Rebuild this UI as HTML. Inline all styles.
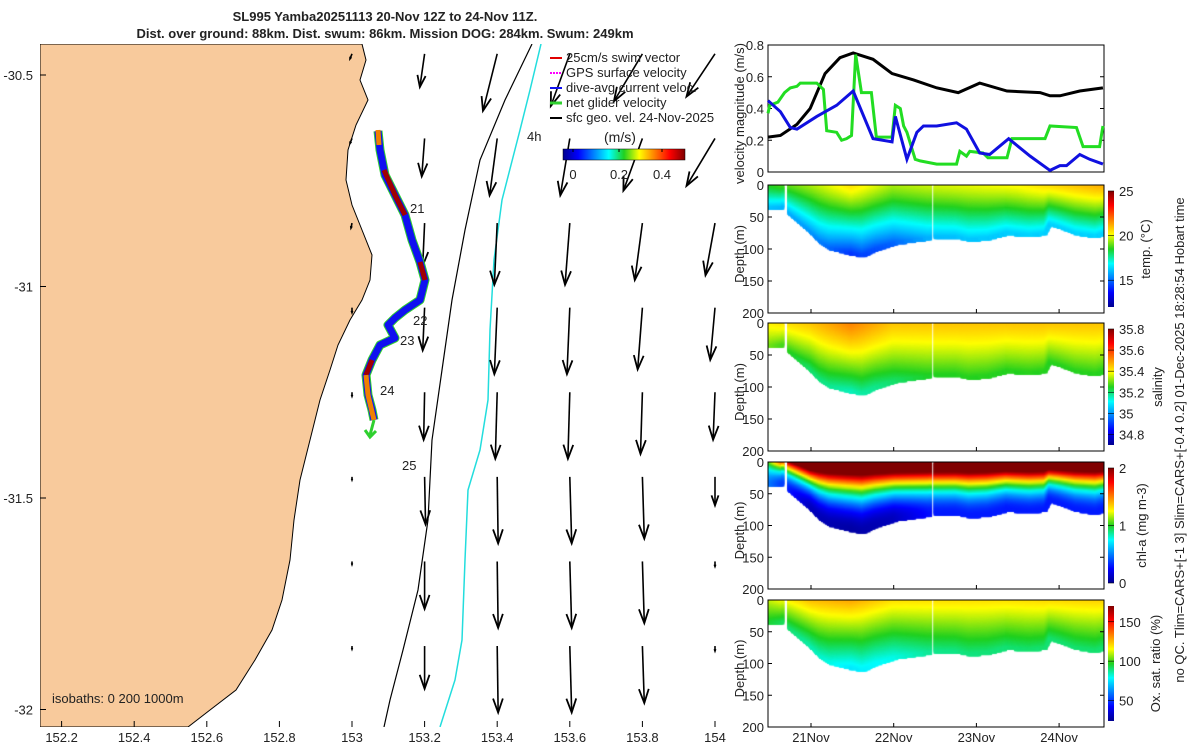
<!DOCTYPE html>
<html><head><meta charset="utf-8">
<style>
html,body{margin:0;padding:0;background:#fff;overflow:hidden;}
#wrap{position:relative;width:1200px;height:750px;overflow:hidden;font-family:"Liberation Sans",sans-serif;}
canvas{position:absolute;}
svg{position:absolute;left:0;top:0;}
text{font-family:"Liberation Sans",sans-serif;font-size:13px;fill:#222;}
</style></head>
<body>
<div id="wrap">
<canvas id="cTemp" width="336" height="128" style="left:768px;top:185px"></canvas>
<canvas id="cSal" width="336" height="128" style="left:768px;top:323px"></canvas>
<canvas id="cChl" width="336" height="127" style="left:768px;top:462px"></canvas>
<canvas id="cOx" width="336" height="127" style="left:768px;top:600px"></canvas>
<svg id="svg" width="1200" height="750" xmlns="http://www.w3.org/2000/svg">
<defs>
<clipPath id="mapclip"><rect x="40" y="44" width="682" height="683"/></clipPath>
<linearGradient id="jetH" x1="0" x2="1" y1="0" y2="0">
<stop offset="0" stop-color="#00008f"/><stop offset="0.125" stop-color="#0000ff"/><stop offset="0.375" stop-color="#00ffff"/><stop offset="0.5" stop-color="#20d020"/><stop offset="0.625" stop-color="#ffff00"/><stop offset="0.875" stop-color="#ff0000"/><stop offset="1" stop-color="#800000"/></linearGradient>
<linearGradient id="jetV" x1="0" x2="0" y1="1" y2="0">
<stop offset="0" stop-color="#00008f"/><stop offset="0.125" stop-color="#0000ff"/><stop offset="0.375" stop-color="#00ffff"/><stop offset="0.5" stop-color="#20d020"/><stop offset="0.625" stop-color="#ffff00"/><stop offset="0.875" stop-color="#ff0000"/><stop offset="1" stop-color="#800000"/></linearGradient>
</defs>
<g id="map" clip-path="url(#mapclip)"></g>
<g id="mapfg"></g>
<g id="right"></g>
</svg>
</div>
<script>
// ---- velocity panel data (days of Nov) ----
const velBlackDays=[20.48,20.63,20.83,20.99,21.17,21.35,21.51,21.75,21.98,22.24,22.52,22.78,23.04,23.37,23.77,23.89,24.01,24.25,24.53];
const velBlackVals=[0.22,0.23,0.30,0.40,0.62,0.72,0.75,0.71,0.62,0.58,0.53,0.50,0.56,0.51,0.50,0.48,0.48,0.51,0.53];
const velBlueDays=[20.48,20.63,20.75,20.83,21.07,21.31,21.51,21.75,21.98,22.02,22.16,22.28,22.36,22.52,22.76,22.88,23.04,23.16,23.39,23.65,23.89,24.01,24.09,24.25,24.37,24.53];
const velBlueVals=[0.45,0.38,0.28,0.27,0.35,0.42,0.51,0.21,0.19,0.35,0.08,0.25,0.29,0.29,0.31,0.27,0.12,0.11,0.21,0.10,0.01,0.04,0.04,0.11,0.08,0.05];
const velGreenDays=[20.48,20.50,20.60,20.68,20.75,20.83,20.87,21.07,21.15,21.19,21.31,21.37,21.43,21.49,21.54,21.61,21.73,21.79,21.98,22.02,22.08,22.12,22.16,22.26,22.32,22.52,22.76,22.80,22.88,22.92,23.08,23.14,23.37,23.43,23.83,23.89,24.21,24.29,24.49,24.53];
const velGreenVals=[0.37,0.42,0.44,0.50,0.53,0.54,0.56,0.56,0.52,0.26,0.25,0.20,0.21,0.23,0.74,0.50,0.50,0.22,0.22,0.42,0.40,0.29,0.25,0.08,0.07,0.05,0.05,0.13,0.10,0.13,0.12,0.09,0.09,0.21,0.21,0.29,0.28,0.16,0.16,0.29];
const velTicks=[0,0.2,0.4,0.6,0.8];
const dateTicks=[21,22,23,24];
const dateLabels=["21Nov","22Nov","23Nov","24Nov"];
// ---- section data ----
const blockStart=[20.48,20.73,22.50];
const blockEnd=[20.66,22.44,24.55];
const bottomDays=[20.48,20.66,20.73,20.99,21.11,21.23,21.47,21.63,21.79,22.03,22.19,22.42,22.50,22.76,22.92,23.14,23.37,23.65,23.83,23.89,24.01,24.21,24.45,24.55];
const bottomDepths=[35,35,43,72,88,98,106,110,100,90,87,83,80,80,85,83,75,78,75,60,65,75,80,75];
const nodeDays=[20.48,21.0,21.5,22.0,22.5,23.5,24.55];
const tempSurf=[18.5,19.5,20.5,19.5,19.8,20.2,21.2];
const tempBot=[16,15.5,14.2,14.8,16,16.2,16.2];
const salSurf=[35.4,35.45,35.52,35.45,35.45,35.45,35.45];
const salBot=[35.3,35.2,35.15,35.2,35.25,35.25,35.25];
const chlSurf=[1.0,3,3,3,3,3,3];
const chlBot=[0.5,0.1,0.05,0.1,0.3,0.3,0.3];
const oxSurf=[110,125,128,120,120,120,122];
const oxBot=[95,85,75,80,88,90,90];
// ---- map data ----
const quiverLons=[153.0,153.2,153.4,153.6,153.8,154.0];
const quiverLats=[-30.45,-30.65,-30.85,-31.05,-31.25,-31.45,-31.65,-31.85];
const quiverU=[
[-0.02,-0.05,-0.15,-0.2,-0.3,-0.3],
[-0.02,-0.03,-0.08,-0.1,-0.2,-0.3],
[-0.01,-0.02,-0.03,-0.05,-0.08,-0.1],
[0,-0.02,-0.03,-0.03,-0.05,-0.05],
[0,-0.01,-0.02,-0.02,-0.02,-0.02],
[0,0.01,0.01,0.02,0.02,0.0],
[0,0.0,0.01,0.02,0.02,0.0],
[0,0.0,0.01,0.02,0.02,0.0]];
const quiverV=[
[-0.05,-0.35,-0.6,-0.55,-0.5,-0.45],
[-0.05,-0.4,-0.6,-0.6,-0.55,-0.5],
[-0.05,-0.45,-0.65,-0.65,-0.6,-0.55],
[-0.05,-0.45,-0.7,-0.7,-0.65,-0.55],
[-0.04,-0.5,-0.7,-0.7,-0.65,-0.5],
[-0.03,-0.5,-0.7,-0.7,-0.65,-0.3],
[-0.03,-0.5,-0.7,-0.7,-0.65,-0.05],
[-0.03,-0.45,-0.7,-0.7,-0.6,-0.05]];
const lonTicks=[152.2,152.4,152.6,152.8,153,153.2,153.4,153.6,153.8,154];
const latTicks=[-30.5,-31,-31.5,-32];

const NS="http://www.w3.org/2000/svg";
function mk(tag,attrs,parent,txt){const e=document.createElementNS(NS,tag);for(const k in attrs)e.setAttribute(k,attrs[k]);if(txt!==undefined)e.textContent=txt;parent.appendChild(e);return e;}
function interp(xs,ys,x){if(x<=xs[0])return ys[0];for(let i=1;i<xs.length;i++){if(x<=xs[i]){const t=(x-xs[i-1])/(xs[i]-xs[i-1]);return ys[i-1]+t*(ys[i]-ys[i-1]);}}return ys[ys.length-1];}
const cmapPos=[0,0.125,0.375,0.5,0.625,0.875,1];
const cmapR=[0,0,0,32,255,255,128],cmapG=[0,0,255,208,255,0,0],cmapB=[143,255,255,32,0,0,0];
function jet(t){t=Math.max(0,Math.min(1,t));return `rgb(${Math.round(interp(cmapPos,cmapR,t))},${Math.round(interp(cmapPos,cmapG,t))},${Math.round(interp(cmapPos,cmapB,t))})`;}

// ---- map ----
const lonX=lon=>352+(lon-153)*363;
const latY=lat=>75+(-30.5-lat)*423;
const map=document.getElementById('map'), mfg=document.getElementById('mapfg');
const land=mk('path',{d:"M40,44 L362,44 L366,60 L360,80 L368,100 L356,125 L348,150 L346,180 L352,205 L362,230 L372,255 L370,280 L362,300 L350,320 L338,345 L330,370 L320,400 L310,440 L300,480 L294,520 L290,560 L282,600 L272,630 L255,660 L236,690 L210,710 L188,727 L40,727 Z",fill:"#f8ca9c",stroke:"#000","stroke-width":1},map);

const iso200=mk('path',{d:"M532,44 L505,100 L480,160 L465,230 L452,300 L442,370 L432,440 L428,520 L418,590 L403,650 L390,700 L384,727",fill:"none",stroke:"#000","stroke-width":1.2},map);

const iso1000=mk('path',{d:"M541,44 L530,90 L520,130 L502,200 L494,260 L490,330 L488,400 L480,450 L468,490 L465,560 L462,640 L455,680 L440,727",fill:"none",stroke:"#22dddd","stroke-width":1.5},map);

// quiver
const qScale=95;
for(let r=0;r<quiverLats.length;r++)for(let c=0;c<quiverLons.length;c++){
  const x0=lonX(quiverLons[c]),y0=latY(quiverLats[r]);
  const dx=quiverU[r][c]*qScale,dy=-quiverV[r][c]*qScale;
  const x1=x0+dx,y1=y0+dy,L=Math.hypot(dx,dy),ux=dx/L,uy=dy/L,h=Math.min(14,L*0.35);
  const g=mk('g',{},map);
  
  mk('line',{x1:x0,y1:y0,x2:x1,y2:y1,stroke:"#000","stroke-width":1.6},g);
  mk('path',{d:`M${x1-ux*h-uy*h*0.35},${y1-uy*h+ux*h*0.35} L${x1},${y1} L${x1-ux*h+uy*h*0.35},${y1-uy*h-ux*h*0.35}`,fill:"none",stroke:"#000","stroke-width":1.8},g);
}
// track
const trk="M378,131 L380,150 L385,175 L395,195 L405,215 L412,240 L420,262 L425,280 L420,300 L405,310 L395,318 L388,325 L395,338 L380,345 L372,360 L366,375 L368,395 L372,410 L374,420";
let t1=mk('path',{d:trk,fill:"none",stroke:"#2fd02f","stroke-width":9,"stroke-linejoin":"round"},map);

let t2=mk('path',{d:trk,fill:"none",stroke:"#1010f0","stroke-width":7,"stroke-linejoin":"round"},map);

let t3=mk('path',{d:"M384,170 L395,195 L405,215 M420,262 L425,280 M372,360 L366,375",fill:"none",stroke:"#a00000","stroke-width":5},map);

let t4=mk('path',{d:"M378,130 L379,145 M366,375 L368,395 L374,420",fill:"none",stroke:"#f08000","stroke-width":5},map);

mk('path',{d:"M374,420 L370,435 M365,430 L370,437 L376,431",fill:"none",stroke:"#2fd02f","stroke-width":3},map);
[["21",410,213],["22",413,325],["23",400,345],["24",380,395],["25",402,470]].forEach(d=>{const t=mk('text',{x:d[1],y:d[2]},map,d[0]);});
// legend
const legY=[62,77,92,107,122],legC=["#e00000","#ff00ff","#1010f0","#2fd02f","#000"],legT=["25cm/s swim vector","GPS surface velocity","dive-avg current veloc.","net glider velocity","sfc geo. vel. 24-Nov-2025"];
legY.forEach((y,i)=>{const g=mk('g',{},mfg);
 mk('line',{x1:550,y1:y-4,x2:562,y2:y-4,stroke:legC[i],"stroke-width":i==3?3:2,"stroke-dasharray":i==1?"2,1":""},g);
 mk('text',{x:566,y:y},g,legT[i]);});
mk('text',{x:527,y:141},mfg,"4h");
mk('text',{x:604,y:142,style:"font-size:14px"},mfg,"(m/s)");
const scb=mk('rect',{x:563,y:149,width:122,height:11,fill:"url(#jetH)",stroke:"#000","stroke-width":0.5},mfg);

[[0,573],[0.2,619],[0.4,662]].forEach(d=>{mk('line',{x1:d[1],y1:149,x2:d[1],y2:152,stroke:"#000"},mfg);mk('text',{x:d[1],y:179,"text-anchor":"middle"},mfg,String(d[0]));});
mk('text',{x:52,y:703},mfg,"isobaths: 0   200  1000m");
// axes ticks
lonTicks.forEach(l=>{const x=lonX(l);mk('line',{x1:x,y1:727,x2:x,y2:721,stroke:"#000"},mfg);const t=mk('text',{x:x,y:742,"text-anchor":"middle"},mfg,String(l));});
latTicks.forEach(l=>{const y=latY(l);mk('line',{x1:40,y1:y,x2:46,y2:y,stroke:"#000"},mfg);const t=mk('text',{x:33,y:y+5,"text-anchor":"end"},mfg,String(l));});
const t1a=mk('text',{x:385,y:21,"text-anchor":"middle","font-weight":"bold"},mfg,"SL995 Yamba20251113 20-Nov 12Z to 24-Nov 11Z.");
const t1b=mk('text',{x:385,y:38,"text-anchor":"middle","font-weight":"bold"},mfg,"Dist. over ground: 88km. Dist. swum: 86km. Mission DOG: 284km. Swum: 249km");

// ---- right panels ----
const R=document.getElementById('right');
const X0=768,X1=1104,D0=20.48,D1=24.543;
const dayX=d=>X0+(d-D0)/(D1-D0)*(X1-X0);
// velocity
const vT=45,vB=172;const velY=v=>vB-(v/0.8)*(vB-vT);
mk('rect',{x:X0,y:vT,width:X1-X0,height:vB-vT,fill:"none",stroke:"#000"},R);
velTicks.forEach(v=>{const y=velY(v);mk('line',{x1:X0,y1:y,x2:X0+4,y2:y,stroke:"#000"},R);mk('line',{x1:X1,y1:y,x2:X1-4,y2:y,stroke:"#000"},R);mk('text',{x:X0-4,y:y+5,"text-anchor":"end"},R,String(v));});
[[velBlackDays,velBlackVals,"#000","velocity-line-black"],[velGreenDays,velGreenVals,"#22dd22","velocity-line-green"],[velBlueDays,velBlueVals,"#1010e0","velocity-line-blue"]].forEach(s=>{
 const p=mk('polyline',{points:s[0].map((d,i)=>dayX(d)+","+velY(s[1][i])).join(" "),fill:"none",stroke:s[2],"stroke-width":3},R);
 });
const vl=mk('text',{transform:`translate(744,${(vT+vB)/2+5}) rotate(-90)`,"text-anchor":"middle"},R,"velocity magnitude (m/s)");
// sections
const panels=[
 {id:'cTemp',top:185,bot:313,clim:[12,25],surf:tempSurf,bottom:tempBot,p:1.2,ticks:[15,20,25],label:"temp. (°C)",lx:1150,name:'temperature'},
 {id:'cSal',top:323,bot:451,clim:[34.7,35.8],surf:salSurf,bottom:salBot,p:1.2,ticks:[34.8,35,35.2,35.4,35.6,35.8],label:"salinity",lx:1162,name:'salinity'},
 {id:'cChl',top:462,bot:589,clim:[0,2],surf:chlSurf,bottom:chlBot,p:-2,ticks:[0,1,2],label:"chl-a (mg m-3)",lx:1146,name:'chlorophyll'},
 {id:'cOx',top:600,bot:727,clim:[24,170],surf:oxSurf,bottom:oxBot,p:1.0,ticks:[50,100,150],label:"Ox. sat. ratio (%)",lx:1160,name:'oxygen'}];
panels.forEach((P,pi)=>{
 const cv=document.getElementById(P.id),ctx=cv.getContext('2d');const H=P.bot-P.top;
 const dY=z=>z/200*H;
 for(let b=0;b<blockStart.length;b++){
  for(let d=blockStart[b];d<=blockEnd[b];d+=0.012){
   const zmax=interp(bottomDays,bottomDepths,d),s=interp(nodeDays,P.surf,d),bt=interp(nodeDays,P.bottom,d);
   for(let z=0;z<=zmax;z+=2){
    const f=z/zmax;let v;
    if(P.p>0)v=s+(bt-s)*Math.pow(f,P.p);else v=bt+(s-bt)*Math.pow(1-f,-P.p);
    ctx.fillStyle=jet((v-P.clim[0])/(P.clim[1]-P.clim[0]));
    ctx.fillRect(dayX(d)-X0-1.5,dY(z)-1,4,4);
   }
  }
 }
 const ax=mk('rect',{x:X0,y:P.top,width:X1-X0,height:H,fill:"none",stroke:"#000"},R);
 
 [0,50,100,150,200].forEach(z=>{const y=P.top+dY(z);mk('line',{x1:X0,y1:y,x2:X0+4,y2:y,stroke:"#000"},R);mk('line',{x1:X1,y1:y,x2:X1-4,y2:y,stroke:"#000"},R);mk('text',{x:X0-4,y:y+5,"text-anchor":"end"},R,String(z));});
 dateTicks.forEach(d=>{mk('line',{x1:dayX(d),y1:P.bot,x2:dayX(d),y2:P.bot-4,stroke:"#000"},R);});
 const yl=mk('text',{transform:`translate(744,${(P.top+P.bot)/2+5}) rotate(-90)`,"text-anchor":"middle"},R,"Depth (m)");
 const cT=P.top+6,cB=P.bot-6;const cY=v=>cB-(v-P.clim[0])/(P.clim[1]-P.clim[0])*(cB-cT);
 const cb=mk('rect',{x:1108,y:cT,width:6,height:cB-cT,fill:"url(#jetV)"},R);
 P.ticks.forEach(v=>{mk('line',{x1:1108,y1:cY(v),x2:1114,y2:cY(v),stroke:"#000","stroke-width":0.6},R);mk('text',{x:1119,y:cY(v)+5},R,String(v));});
 const cl=mk('text',{transform:`translate(${P.lx},${(P.top+P.bot)/2}) rotate(-90)`,"text-anchor":"middle"},R,P.label);
});
dateTicks.forEach((d,i)=>{const t=mk('text',{x:dayX(d),y:742,"text-anchor":"middle"},R,dateLabels[i]);});
const side=mk('text',{transform:"translate(1184,440) rotate(-90)","text-anchor":"middle"},R,"no QC. Tlim=CARS+[-1 3] Slim=CARS+[-0.4 0.2] 01-Dec-2025 18:28:54 Hobart time");

</script>
</body></html>
